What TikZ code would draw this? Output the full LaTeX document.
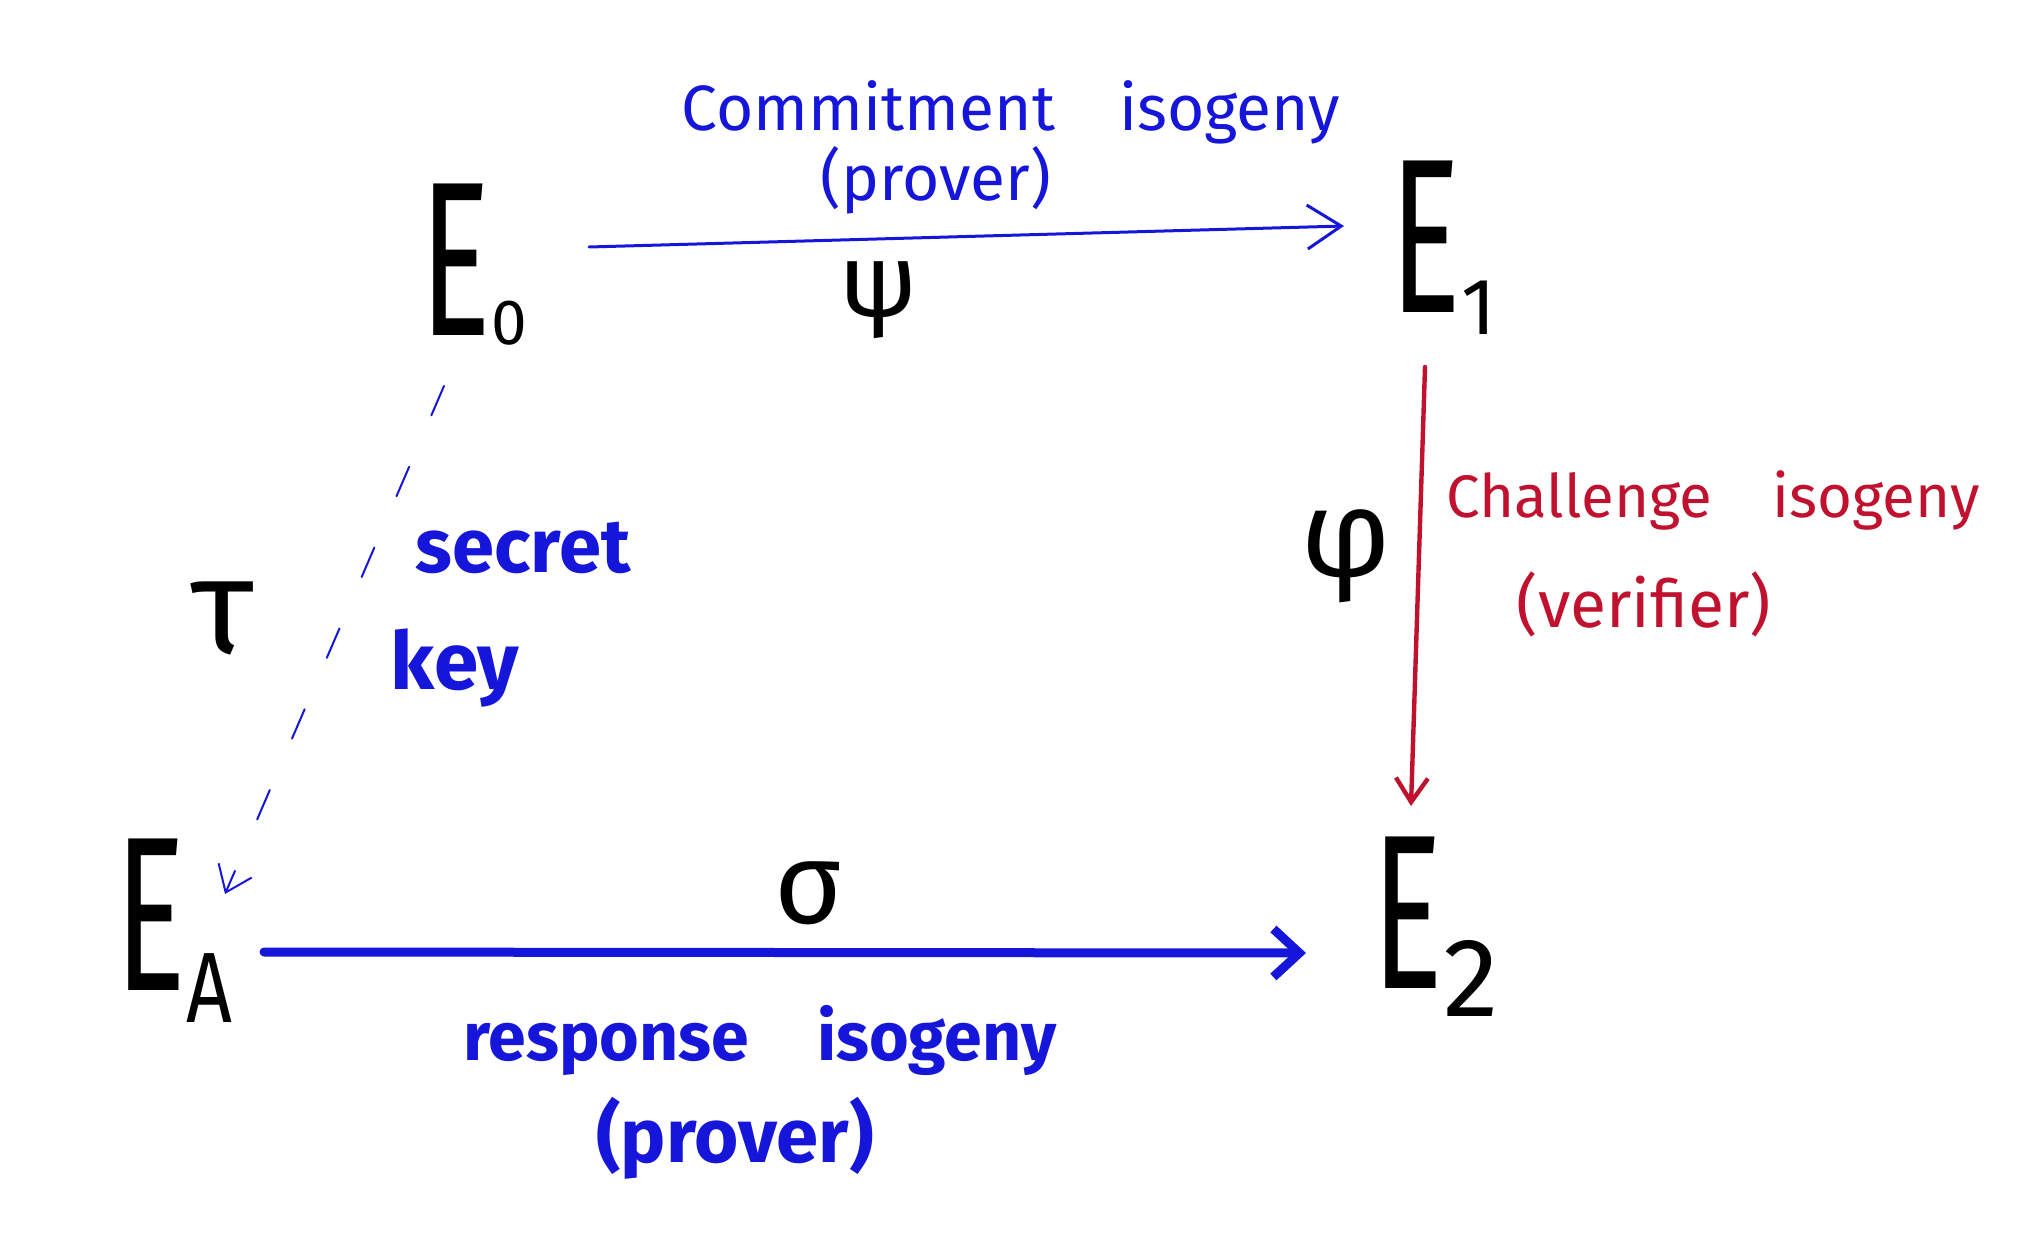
\documentclass[tikz,border=0pt]{standalone}
\usepackage{fontspec}
\newfontfamily\hand{Fira Sans}
\usetikzlibrary{arrows.meta}
\definecolor{inkblue}{RGB}{22,22,218}
\definecolor{inkred}{RGB}{192,18,46}
\newcommand{\curveE}[3]{\scalebox{0.6}[1]{\fontsize{110}{110}\selectfont E}\raisebox{#3}{\fontsize{#2}{#2}\selectfont #1}}
\begin{document}
\begin{tikzpicture}[x=0.5pt,y=-0.5pt,
  curvename/.style={inner sep=0pt, anchor=base west, font=\hand},
  greek/.style={inner sep=0pt, font=\hand\fontsize{#1}{#1}\selectfont},
  bluelab/.style={text=inkblue, inner sep=0pt, align=center, font=\hand\fontsize{32}{36}\selectfont},
  redlab/.style={text=inkred, inner sep=0pt, align=center, font=\hand\fontsize{30}{34}\selectfont},
  line cap=round, line join=round]
\path[use as bounding box] (0,0) rectangle (2017,1241);

% curves
\node[curvename] (E0) at (420,335) {\curveE{0}{32}{-5pt}};
\node[curvename] (E1) at (1390,312) {\curveE{1}{40}{-11pt}};
\node[curvename] (EA) at (115,990) {\curveE{\scalebox{0.8}[1]{A}}{50}{-16pt}};
\node[curvename] (E2) at (1372,988) {\curveE{2}{56}{-14pt}};

% isogeny names
\node[greek=52] (psi) at (879,300) {ψ};
\node[greek=62] (phi) at (1346,556) {φ};
\node[greek=68] (tau) at (223,618) {τ};
\node[greek=58] (sigma) at (809,893) {σ};

% labels
\node[bluelab] (commit) at (1011,112) {Commitment\quad isogeny};
\node[bluelab] (prov1) at (936,180) {(prover)};
\node[redlab] (chal) at (1713,500) {Challenge\quad isogeny};
\node[redlab, font=\hand\fontsize{33}{37}\selectfont] (verif) at (1644,604) {(verifier)};
\node[bluelab, font=\hand\bfseries\fontsize{38}{42}\selectfont] (secret) at (523,548) {secret};
\node[bluelab, font=\hand\bfseries\fontsize{40}{44}\selectfont] (key) at (455,668) {key};
\node[bluelab, font=\hand\bfseries\fontsize{34}{38}\selectfont] (resp) at (760,1040) {response\quad isogeny};
\node[bluelab, font=\hand\bfseries\fontsize{38}{42}\selectfont] (prov2) at (735,1138) {(prover)};

% connectors
\draw[inkblue, line width=1.5pt, -{Straight Barb[length=17pt, width=22pt]}]
  ([shift={(169,-88)}]E0.base west) -- ([shift={(-46,-86)}]E1.base west);
\draw[inkred, line width=2.2pt, -{Straight Barb[length=12pt, width=16pt]}]
  ([shift={(35,55)}]E1.base west) -- ([shift={(39,-182)}]E2.base west);
\draw[inkblue, line width=1pt, dash pattern=on 16pt off 28pt, -{Straight Barb[length=12pt, width=18pt]}]
  ([shift={(24,51)}]E0.base west) -- ([shift={(110,-96)}]EA.base west);
\draw[inkblue, line width=4.5pt, -{Straight Barb[length=13pt, width=24pt]}]
  ([shift={(149,-38)}]EA.base west) -- ([shift={(-66,-35)}]E2.base west);
\end{tikzpicture}
\end{document}
